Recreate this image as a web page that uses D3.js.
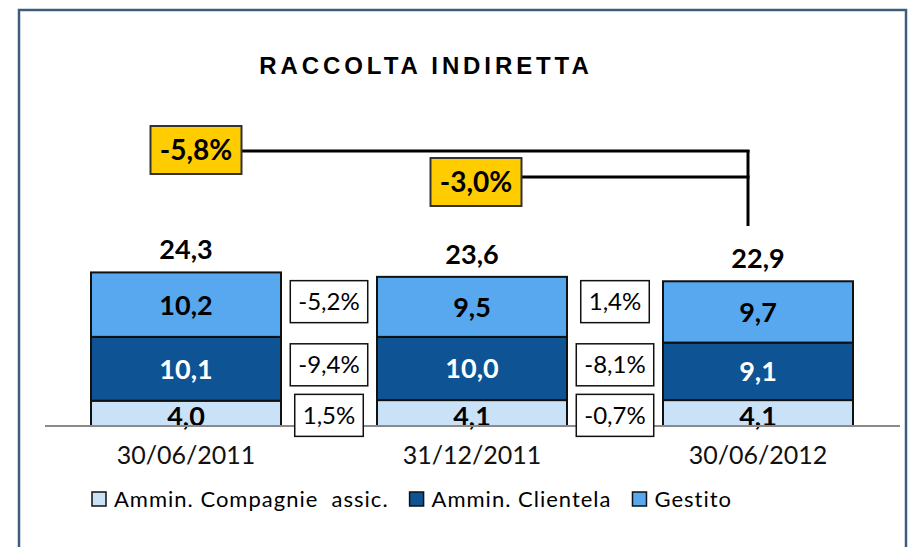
<!DOCTYPE html>
<html>
<head>
<meta charset="utf-8">
<script src="https://cdn.jsdelivr.net/npm/d3@7"></script>
<style>
  html, body { margin: 0; padding: 0; background: #fff; }
  svg { display: block; }
</style>
</head>
<body>
<svg id="chart" width="911" height="547"></svg>
<script>
// dati
var categories = ["30/06/2011", "31/12/2011", "30/06/2012"];
var series = ["Ammin. Compagnie  assic.", "Ammin. Clientela", "Gestito"];
var compagnie = [4.0, 4.1, 4.1];
var clientela = [10.1, 10.0, 9.1];
var gestito = [10.2, 9.5, 9.7];
var totals = [24.3, 23.6, 22.9];
// variazioni tra periodi (riga: compagnie, clientela, gestito)
var changesCompagnie = ["1,5%", "-0,7%"];
var changesClientela = ["-9,4%", "-8,1%"];
var changesGestito = ["-5,2%", "1,4%"];
var totalChanges = ["-5,8%", "-3,0%"];

var colors = ["#C9E2F8", "#0E5394", "#58A8EF"];
var labelColors = ["#000", "#fff", "#000"];

var it = d3.formatLocale({decimal: ",", thousands: ".", grouping: [3], currency: ["€", ""]});
var fmt = it.format(".1f");

var svg = d3.select("#chart");

// cornice
svg.append("rect")
    .attr("x", 19).attr("y", 10)
    .attr("width", 887).attr("height", 600)
    .attr("fill", "none")
    .attr("stroke", "#3E5C7C")
    .attr("stroke-width", 2.5);

svg.append("text")
    .attr("x", 426).attr("y", 74)
    .attr("text-anchor", "middle")
    .style("font-family", "'Liberation Sans', Arial, sans-serif")
    .style("font-weight", "bold")
    .style("font-size", "24px")
    .style("letter-spacing", "3.9px")
    .text("RACCOLTA INDIRETTA");

var x = d3.scaleBand()
    .domain(categories)
    .range([43, 901])
    .paddingInner(0.3357)
    .paddingOuter(0.3357 / 2);

var y = d3.scaleLinear()
    .domain([0, 30])
    .range([426, 426 - 30 * 6.32]);

var rows = categories.map(function(c, i) {
    return {cat: c, compagnie: compagnie[i], clientela: clientela[i], gestito: gestito[i]};
});
var stack = d3.stack().keys(["compagnie", "clientela", "gestito"])(rows);

var layers = svg.selectAll("g.layer")
    .data(stack)
    .enter()
    .append("g")
    .attr("class", "layer");

layers.selectAll("rect")
    .data(function(d) { return d; })
    .enter()
    .append("rect")
    .attr("x", function(d) { return x(d.data.cat); })
    .attr("y", function(d) { return y(d[1]); })
    .attr("width", x.bandwidth())
    .attr("height", function(d) { return y(d[0]) - y(d[1]); })
    .attr("fill", function(d) { return colors[d3.select(this.parentNode).datum().index]; })
    .attr("stroke", "#111")
    .attr("stroke-width", 2);

layers.each(function(layer, li) {
    d3.select(this).selectAll("text")
        .data(layer)
        .enter()
        .append("text")
        .attr("x", function(d) { return x(d.data.cat) + x.bandwidth() / 2; })
        .attr("y", function(d) { return (y(d[0]) + y(d[1])) / 2 + (li == 0 ? 13 : 10); })
        .attr("text-anchor", "middle")
        .style("font-family", "Lato, sans-serif")
        .style("font-weight", "bold")
        .style("font-size", "27px")
        .style("fill", labelColors[li])
        .text(function(d) { return fmt(d[1] - d[0]); });
});

// totali
svg.selectAll("text.total")
    .data(totals)
    .enter()
    .append("text")
    .attr("class", "total")
    .attr("x", function(d, i) { return x(categories[i]) + x.bandwidth() / 2; })
    .attr("y", function(d) { return y(d) - 13; })
    .attr("text-anchor", "middle")
    .style("font-family", "Lato, sans-serif")
    .style("font-weight", "bold")
    .style("font-size", "27px")
    .text(function(d) { return fmt(d); });

// asse
svg.append("line")
    .attr("x1", 45).attr("x2", 900)
    .attr("y1", y(0)).attr("y2", y(0))
    .attr("stroke", "#8A8A8A")
    .attr("stroke-width", 2);

var xAxis = svg.append("g")
    .attr("transform", "translate(0," + y(0) + ")")
    .call(d3.axisBottom(x).tickSize(0).tickPadding(38));
xAxis.select(".domain").remove();
xAxis.selectAll("text")
    .style("font-family", "Lato, sans-serif")
    .style("font-size", "25px")
    .attr("fill", "#111")
    .attr("dy", 0);

// box variazioni
var changeRows = [changesCompagnie, changesClientela, changesGestito];
var rowOffsets = [2, -4, -3];
changeRows.forEach(function(row, ri) {
    var seg = stack[ri][0];
    var cy = (y(seg[0]) + y(seg[1])) / 2 + rowOffsets[ri];
    row.forEach(function(label, pi) {
        var cx = (x(categories[pi]) + x.bandwidth() + x(categories[pi + 1])) / 2;
        var g = svg.append("g");
        var r = g.append("rect");
        var t = g.append("text")
            .attr("x", cx)
            .attr("y", cy + 8.5)
            .attr("text-anchor", "middle")
            .style("font-family", "Lato, sans-serif")
            .style("font-size", "24px")
            .text(label);
        var w = t.node().getComputedTextLength() + 16;
        r.attr("x", cx - w / 2).attr("y", cy - 21)
            .attr("width", w).attr("height", 42)
            .attr("fill", "#fff")
            .attr("stroke", "#111")
            .attr("stroke-width", 1.5);
    });
});

// variazioni totali
var lineX = x(categories[2]) + x.bandwidth() / 2 - 10;
var calloutTop = [126, 158];
var calloutOffset = [10, 4];
var lineYs = [151, 177];
svg.append("line")
    .attr("x1", lineX).attr("x2", lineX)
    .attr("y1", lineYs[0] - 1).attr("y2", 226)
    .attr("stroke", "#000").attr("stroke-width", 3);

totalChanges.forEach(function(label, i) {
    var cx = x(categories[i]) + x.bandwidth() / 2 + calloutOffset[i];
    var w = 91, h = 48;
    svg.append("line")
        .attr("x1", cx + w / 2).attr("x2", lineX + 1.5)
        .attr("y1", lineYs[i]).attr("y2", lineYs[i])
        .attr("stroke", "#000").attr("stroke-width", 3);
    svg.append("rect")
        .attr("x", cx - w / 2).attr("y", calloutTop[i])
        .attr("width", w).attr("height", h)
        .attr("fill", "#FFCC00")
        .attr("stroke", "#333")
        .attr("stroke-width", 2);
    svg.append("text")
        .attr("x", cx).attr("y", calloutTop[i] + h / 2 + 10)
        .attr("text-anchor", "middle")
        .style("font-family", "Lato, sans-serif")
        .style("font-weight", "bold")
        .style("font-size", "28px")
        .text(label);
});

// legenda
var lx = 92, ly = 499;
series.forEach(function(s, i) {
    svg.append("rect")
        .attr("x", lx).attr("y", ly - 7)
        .attr("width", 14).attr("height", 14)
        .attr("fill", colors[i])
        .attr("stroke", "#111")
        .attr("stroke-width", 1.5);
    var t = svg.append("text")
        .attr("x", lx + 22).attr("y", ly + 8)
        .attr("xml:space", "preserve")
        .style("white-space", "pre")
        .style("font-family", "Lato, sans-serif")
        .style("font-size", "22px")
        .style("letter-spacing", "1px")
        .text(s);
    lx += 22 + t.node().getComputedTextLength() + 21;
});
</script>
</body>
</html>
